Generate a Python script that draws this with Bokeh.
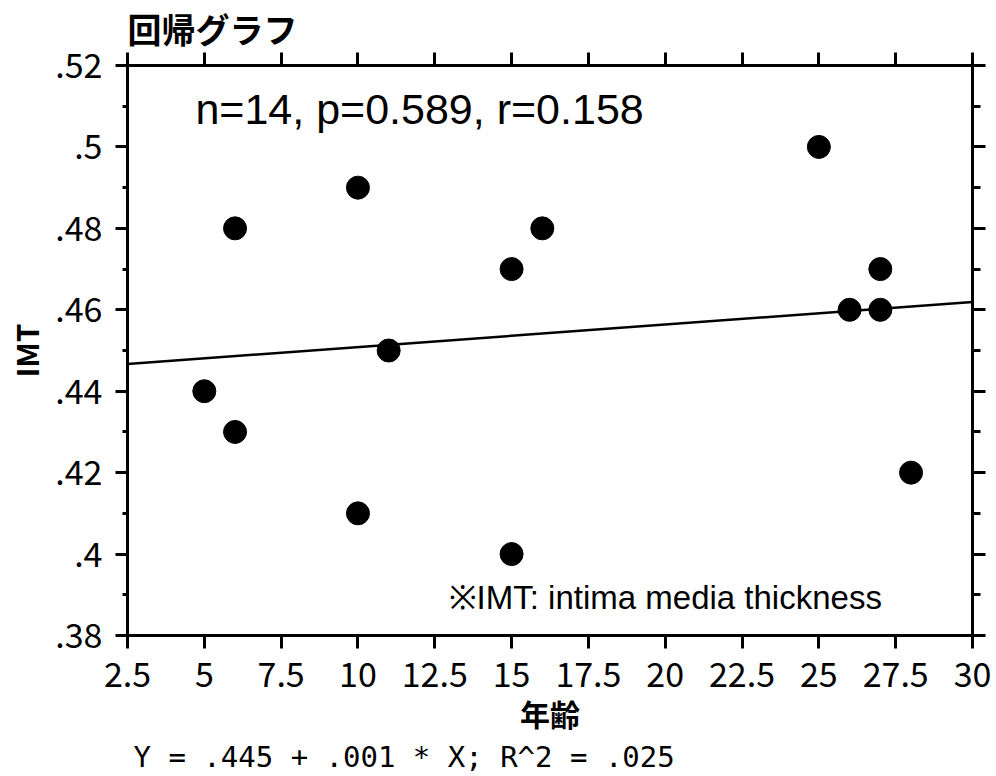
import numpy as np
from bokeh.plotting import figure
from bokeh.models import (LinearAxis, SingleIntervalTicker, CustomJSTickFormatter,
                          Label, Range1d, Title)
from bokeh.embed import file_html
from bokeh.resources import INLINE

# ---- data ----
age = [5, 6, 6, 10, 10, 11, 15, 15, 16, 25, 26, 27, 27, 28]
imt = [0.44, 0.48, 0.43, 0.49, 0.41, 0.45, 0.47, 0.40, 0.48, 0.50, 0.46, 0.47, 0.46, 0.42]
x_limits = [2.5, 30]
y_limits = [0.38, 0.52]
title_text = "回帰グラフ"
stats_text = "n=14, p=0.589, r=0.158"
note_text = "※IMT: intima media thickness"
equation_text = "Y = .445 + .001 * X; R^2 = .025"
x_label = "年齢"
y_label = "IMT"

slope, intercept = np.polyfit(age, imt, 1)
fit_x = list(x_limits)
fit_y = [intercept + slope * v for v in fit_x]

JP = "Noto Sans CJK JP"

p = figure(width=996, height=776, output_backend="svg", toolbar_location=None,
           x_range=Range1d(*x_limits), y_range=Range1d(*y_limits),
           min_border_left=127, min_border_right=24, min_border_top=65,
           min_border_bottom=141)
p.grid.visible = False
p.background_fill_color = "white"
p.border_fill_color = "white"
p.outline_line_color = "black"
p.outline_line_width = 3

xfmt = CustomJSTickFormatter(code="return (Math.round(tick*10)/10).toString();")
yfmt = CustomJSTickFormatter(code="var s = tick.toFixed(2).replace(/^0/, ''); s = s.replace(/0+$/, ''); return s;")
blank = CustomJSTickFormatter(code="return '';")


def style(ax, major_out, minor_out, minor=True):
    ax.axis_line_width = 3
    ax.axis_line_color = "black"
    ax.major_tick_line_width = 3
    ax.major_tick_line_color = "black"
    ax.minor_tick_line_width = 3
    ax.minor_tick_line_color = "black" if minor else None
    ax.major_tick_in = 0
    ax.minor_tick_in = 0
    ax.major_tick_out = major_out
    ax.minor_tick_out = minor_out
    ax.major_label_text_color = "black"
    ax.major_label_text_font = JP
    ax.major_label_text_font_size = "34px"
    ax.axis_label_text_color = "black"


xb = p.xaxis[0]
xb.ticker = SingleIntervalTicker(interval=2.5, num_minor_ticks=0)
xb.formatter = xfmt
style(xb, 13, 0, minor=False)
xb.major_label_standoff = 13
xb.axis_label = x_label
xb.axis_label_text_font = JP
xb.axis_label_text_font_style = "bold"
xb.axis_label_text_font_size = "30px"
xb.axis_label_standoff = 1

yl = p.yaxis[0]
yl.ticker = SingleIntervalTicker(interval=0.02, num_minor_ticks=2)
yl.formatter = yfmt
style(yl, 12, 5)
yl.major_label_standoff = 13
yl.axis_label = y_label
yl.axis_label_text_font = JP
yl.axis_label_text_font_style = "bold"
yl.axis_label_text_font_size = "30px"
yl.axis_label_standoff = 4

xt = LinearAxis(ticker=SingleIntervalTicker(interval=2.5, num_minor_ticks=0), formatter=blank)
style(xt, 13, 0, minor=False)
xt.major_label_standoff = 0
xt.major_label_text_font_size = "0px"
p.add_layout(xt, "above")

yr = LinearAxis(ticker=SingleIntervalTicker(interval=0.02, num_minor_ticks=2), formatter=blank)
style(yr, 13, 8)
yr.major_label_standoff = 0
yr.major_label_text_font_size = "0px"
p.add_layout(yr, "right")

p.line(fit_x, fit_y, line_color="black", line_width=2.5)
p.scatter(age, imt, size=23, fill_color="black", line_color="black")

p.title = Title(text=title_text, text_font=JP, text_font_style="bold",
                text_font_size="34px", text_color="black", align="left",
                offset=0, standoff=0)
p.add_layout(Title(text=equation_text, text_font="DejaVu Sans Mono",
                   text_font_size="29px", text_color="black", align="left",
                   offset=6, standoff=0, text_font_style="normal"), "below")

p.add_layout(Label(x=4.71, y=0.5093, text=stats_text, text_font="Liberation Sans",
                   text_font_size="43px", text_color="black",
                   text_baseline="middle", text_align="left"))
p.add_layout(Label(x=12.95, y=0.3893, text=note_text, text_font="Liberation Sans",
                   text_font_size="33px", text_color="black",
                   text_baseline="middle", text_align="left"))

open("out.html", "w").write(file_html(p, INLINE))
